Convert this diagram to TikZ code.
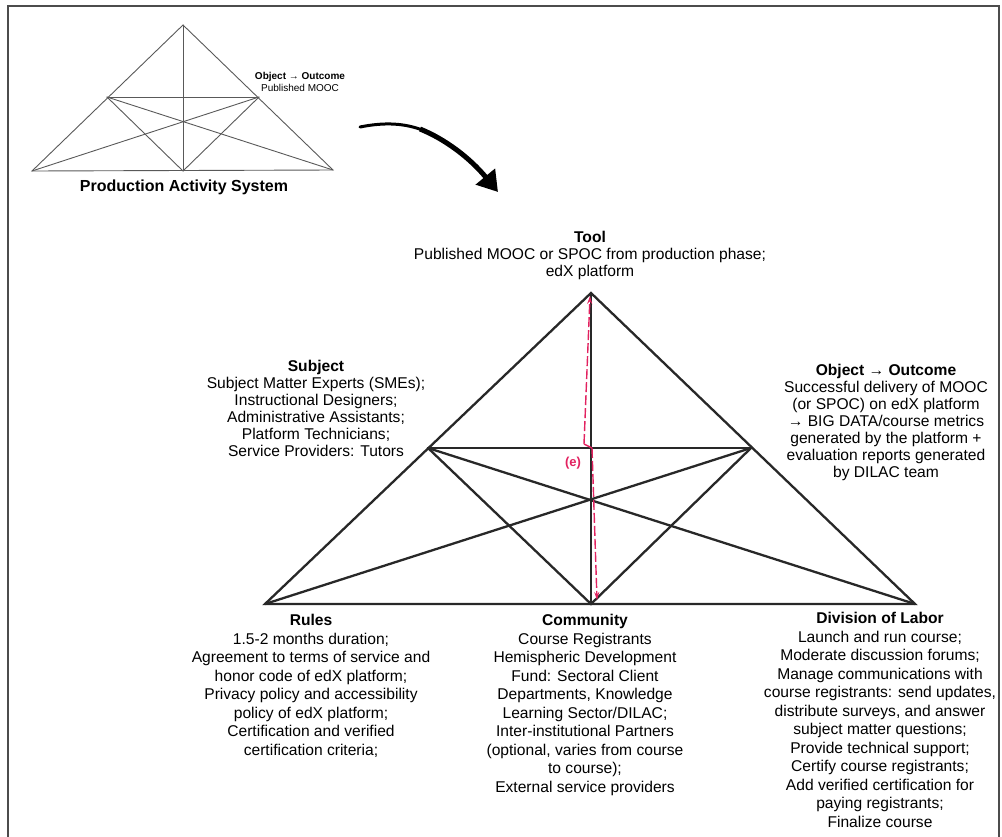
\documentclass[tikz,border=0pt]{standalone}
\usepackage{fontspec}
\setmainfont{Liberation Sans}
\usepackage{tikz}
\usetikzlibrary{arrows.meta,positioning}

\definecolor{edgegray}{RGB}{40,40,40}
\definecolor{errred}{RGB}{226,34,96}

\tikzset{
  bigedge/.style={line width=2.3pt,draw=edgegray,line cap=round},
  smalledge/.style={line width=0.9pt,draw=black!65,line cap=round},
  toplabel/.style={align=center,inner sep=0pt,anchor=north,
                   font=\fontsize{15.6}{17}\selectfont},
  botlabel/.style={align=center,inner sep=0pt,anchor=north,
                   font=\fontsize{15.6}{18.5}\selectfont},
  redpath/.style={errred,line width=1.4pt,dash pattern=on 10pt off 3pt}
}

\begin{document}
\begin{tikzpicture}[x=1pt,y=-1pt,>=Stealth]
  \useasboundingbox (0,0) rectangle (1002,836);
  \draw[line width=1.4pt,black!70] (8,6) rectangle (999,850);

  % production activity system (small)
  \coordinate (pT) at (183,25);
  \coordinate (pL) at (32,171);
  \coordinate (pM) at (183,171);
  \coordinate (pR) at (333,170);
  \coordinate (pS) at (107,97);
  \coordinate (pO) at (259,97);
  \draw[smalledge] (pT) -- (pL) -- (pR) -- cycle;
  \draw[smalledge] (pT) -- (pM);
  \draw[smalledge] (pS) -- (pO);
  \draw[smalledge] (pS) -- (pM) -- (pO);
  \draw[smalledge] (pS) -- (pR);
  \draw[smalledge] (pO) -- (pL);
  \node[align=center,inner sep=0pt,font=\fontsize{10}{12.5}\selectfont] (pobj) at (300,82)
    {\textbf{Object → Outcome}\\Published MOOC};
  \node[inner sep=0pt,font=\fontsize{16}{18}\selectfont\bfseries] (ptitle) at (184,187)
    {Production Activity System};

  % transition arrow
  \coordinate (arrA) at (360,127);
  \coordinate (arrB) at (498,192);
  \draw[line width=3pt,line cap=round] (arrA) .. controls (385,122) and (405,123) .. (425,131);
  \draw[line width=5pt,-{Triangle[length=20pt,width=24pt]}] (420,129) .. controls (445,139) and (470,158) .. (arrB);

  % delivery activity system
  \coordinate (T) at (591,293);
  \coordinate (L) at (265,604);
  \coordinate (M) at (591,604);
  \coordinate (R) at (915,604);
  \coordinate (S) at (428,448);
  \coordinate (O) at (751,448);
  \draw[bigedge] (T) -- (L) -- (R) -- cycle;
  \draw[bigedge] (T) -- (M);
  \draw[bigedge] (S) -- (O);
  \draw[bigedge] (S) -- (M) -- (O);
  \draw[bigedge] (S) -- (R);
  \draw[bigedge] (O) -- (L);

  % contradiction (e)
  \coordinate (e1) at (584,444);
  \coordinate (e2) at (592,448);
  \coordinate (eT) at (590,296);
  \coordinate (eB) at (597,600);
  \draw[redpath,-{Stealth[length=8pt,width=5pt]}] (e1) -- (eT);
  \draw[errred,line width=1.4pt] (e1) -- (e2);
  \draw[redpath,-{Stealth[length=8pt,width=5pt]}] (e2) -- (eB);
  \node[errred,inner sep=0pt,font=\fontsize{13}{15}\selectfont\bfseries] (elabel) at (573,463) {(e)};

  \node[toplabel] (tool) at (590,231)
    {\textbf{Tool}\\Published MOOC or SPOC from production phase;\\edX platform};
  \node[toplabel] (subject) at (316,360)
    {\textbf{Subject}\\Subject Matter Experts (SMEs);\\Instructional Designers;\\
     Administrative Assistants;\\Platform Technicians;\\Service Providers: Tutors};
  \node[toplabel] (object) at (886,364)
    {\textbf{Object → Outcome}\\Successful delivery of MOOC\\(or SPOC) on edX platform\\
     → BIG DATA/course metrics\\generated by the platform +\\evaluation reports generated\\
     by DILAC team};
  \node[botlabel] (rules) at (311,614)
    {\textbf{Rules}\\1.5-2 months duration;\\Agreement to terms of service and\\
     honor code of edX platform;\\Privacy policy and accessibility\\policy of edX platform;\\
     Certification and verified\\certification criteria;};
  \node[botlabel] (community) at (585,614)
    {\textbf{Community}\\Course Registrants\\Hemispheric Development\\Fund: Sectoral Client\\
     Departments, Knowledge\\Learning Sector/DILAC;\\Inter-institutional Partners\\
     (optional, varies from course\\to course);\\External service providers};
  \node[botlabel] (labor) at (880,612)
    {\textbf{Division of Labor}\\Launch and run course;\\Moderate discussion forums;\\
     Manage communications with\\course registrants: send updates,\\
     distribute surveys, and answer\\subject matter questions;\\Provide technical support;\\
     Certify course registrants;\\Add verified certification for\\paying registrants;\\
     Finalize course};
\end{tikzpicture}
\end{document}
